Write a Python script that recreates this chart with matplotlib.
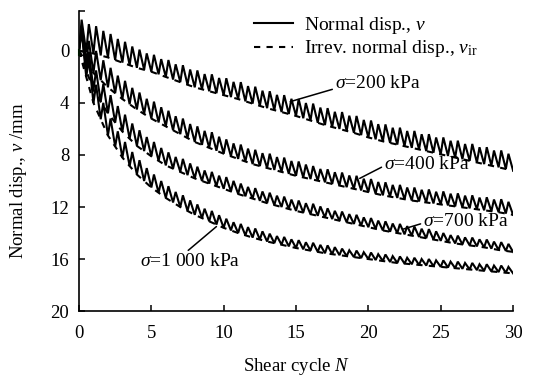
import matplotlib
matplotlib.use("Agg")
import matplotlib.pyplot as plt
from matplotlib.lines import Line2D
import numpy as np

# Normal displacement vs shear cycle, four normal stresses
ciclos = list(range(31))

# irreversible normal displacement at the end of each cycle (mm)
v_ir_200 = [0.0, 0.2, 0.5, 0.9, 1.3, 1.6, 2.0, 2.4, 2.8, 3.1, 3.4, 3.7, 4.05, 4.4, 4.7, 5.0,
            5.35, 5.7, 6.0, 6.3, 6.65, 6.95, 7.2, 7.45, 7.7, 7.95, 8.2, 8.45, 8.7, 8.95, 9.2]
v_ir_400 = [0.0, 1.7, 2.8, 3.7, 4.5, 5.2, 5.8, 6.4, 7.0, 7.45, 7.9, 8.3, 8.7, 9.0, 9.3, 9.6,
            9.85, 10.1, 10.35, 10.6, 10.85, 11.1, 11.3, 11.5, 11.65, 11.8, 11.95, 12.1, 12.25, 12.4, 12.6]
v_ir_700 = [0.0, 3.0, 4.8, 6.2, 7.3, 8.1, 8.8, 9.3, 9.8, 10.2, 10.6, 11.0, 11.35, 11.7, 12.0, 12.3,
            12.55, 12.8, 13.05, 13.3, 13.55, 13.8, 14.0, 14.2, 14.4, 14.6, 14.8, 14.95, 15.1, 15.3, 15.45]
v_ir_1000 = [0.0, 4.0, 6.5, 8.2, 9.5, 10.5, 11.3, 12.0, 12.6, 13.1, 13.6, 14.0, 14.35, 14.65, 14.9, 15.15,
             15.35, 15.55, 15.7, 15.85, 16.0, 16.15, 16.3, 16.4, 16.5, 16.6, 16.7, 16.8, 16.9, 17.0, 17.1]

# height of the dilation peaks within each cycle (mm)
amp_200 = [2.4, 2.1, 1.8, 1.6, 1.4, 1.3, 1.3, 1.3, 1.3, 1.3, 1.3, 1.3, 1.3, 1.3, 1.3,
           1.3, 1.3, 1.3, 1.3, 1.3, 1.3, 1.3, 1.3, 1.3, 1.3, 1.3, 1.3, 1.3, 1.3, 1.3]
amp_400 = [1.8, 1.7, 1.5, 1.4, 1.3, 1.3, 1.2, 1.2, 1.2, 1.2, 1.1, 1.1, 1.1, 1.1, 1.1,
           1.1, 1.0, 1.0, 1.0, 1.0, 1.0, 1.0, 1.0, 1.0, 1.0, 1.0, 1.0, 1.0, 1.0, 1.0]
amp_700 = [1.6, 1.5, 1.4, 1.3, 1.2, 1.1, 1.0, 1.0, 0.9, 0.9, 0.9, 0.8, 0.8, 0.8, 0.8,
           0.8, 0.8, 0.7, 0.7, 0.7, 0.7, 0.7, 0.7, 0.7, 0.7, 0.6, 0.6, 0.6, 0.6, 0.6]
amp_1000 = [1.5, 1.4, 1.3, 1.2, 1.1, 1.0, 0.9, 0.9, 0.8, 0.8, 0.7, 0.7, 0.7, 0.6, 0.6,
            0.6, 0.6, 0.6, 0.5, 0.5, 0.5, 0.5, 0.5, 0.5, 0.5, 0.5, 0.5, 0.5, 0.5, 0.5]

rotulos = ["200", "400", "700", "1 000"]


def curva_serrilhada(v_ir, amp):
    """Two dilation teeth per cycle between the irreversible values."""
    xs, ys = [], []
    for k in range(len(amp)):
        b0, b1 = v_ir[k], v_ir[k + 1]
        meio = 0.5 * (b0 + b1)
        xs += [k, k + 0.18, k + 0.5, k + 0.68]
        ys += [b0, b0 - amp[k], meio, meio - 0.9 * amp[k]]
    xs.append(len(amp))
    ys.append(v_ir[-1])
    return np.array(xs), np.array(ys)


plt.rcParams.update({
    "font.family": "Liberation Serif",
    "font.size": 13.5,
    "mathtext.fontset": "custom",
    "mathtext.rm": "Liberation Serif",
    "mathtext.it": "Liberation Serif:italic",
})

fig = plt.figure(figsize=(5.46, 3.78), dpi=100)
ax = fig.add_axes([0.1447, 0.177, 0.795, 0.795])

for v_ir, amp in [(v_ir_200, amp_200), (v_ir_400, amp_400),
                  (v_ir_700, amp_700), (v_ir_1000, amp_1000)]:
    x, y = curva_serrilhada(v_ir, amp)
    ax.plot(x, y, color="black", linewidth=1.5, solid_joinstyle="miter")
    ax.plot(ciclos, v_ir, color="black", linewidth=1.5, linestyle=(0, (3, 3)))

ax.plot([0, 0], [-0.1, 0.3], color="green", linewidth=1.5, clip_on=False)

ax.set_xlim(0, 30)
ax.set_ylim(20, -3.1)
ax.set_xticks([0, 5, 10, 15, 20, 25, 30])
ax.set_yticks([0, 4, 8, 12, 16, 20])
ax.set_yticks([-3.1], minor=True)
ax.tick_params(direction="in", length=4, width=1.1, which="both")
ax.tick_params(axis="x", pad=10)
ax.tick_params(axis="y", pad=7)
for lado in ["top", "right"]:
    ax.spines[lado].set_visible(False)
for lado in ["left", "bottom"]:
    ax.spines[lado].set_linewidth(1.2)

ax.set_xlabel("Shear cycle $N$", labelpad=10)
ax.set_ylabel("Normal disp., $v$ /mm")
ax.yaxis.set_label_coords(-0.115, 0.435)

alcas = [Line2D([], [], color="black", linewidth=1.5),
         Line2D([], [], color="black", linewidth=1.5, linestyle=(0, (3, 3)))]
ax.legend(alcas, ["Normal disp., $v$", "Irrev. normal disp., $v_{\\mathrm{ir}}$"],
          loc="upper left", bbox_to_anchor=(0.362, 1.045), frameon=False, fontsize=14,
          handlelength=2.0, handletextpad=0.57, labelspacing=0.15)

# stress annotations with leader lines
seta = dict(arrowstyle="-", color="black", linewidth=1.1, shrinkA=0, shrinkB=0)
ax.annotate("$\\sigma$=" + rotulos[0] + " kPa", xy=(14.6, 3.9), xytext=(17.7, 2.5),
            arrowprops=dict(seta, relpos=(0, 0.2)), va="center", fontsize=14)
ax.annotate("$\\sigma$=" + rotulos[1] + " kPa", xy=(19.4, 9.8), xytext=(21.1, 8.7),
            arrowprops=dict(seta, relpos=(0, 0.4)), va="center", fontsize=14)
ax.annotate("$\\sigma$=" + rotulos[2] + " kPa", xy=(22.4, 13.7), xytext=(23.8, 13.1),
            arrowprops=dict(seta, relpos=(0, 0.4)), va="center", fontsize=14)
ax.annotate("$\\sigma$=" + rotulos[3] + " kPa", xy=(9.5, 13.5), xytext=(4.2, 16.2),
            arrowprops=dict(seta, relpos=(0.45, 1.0)), va="center", fontsize=14)

fig.savefig("out.png", dpi=100)
